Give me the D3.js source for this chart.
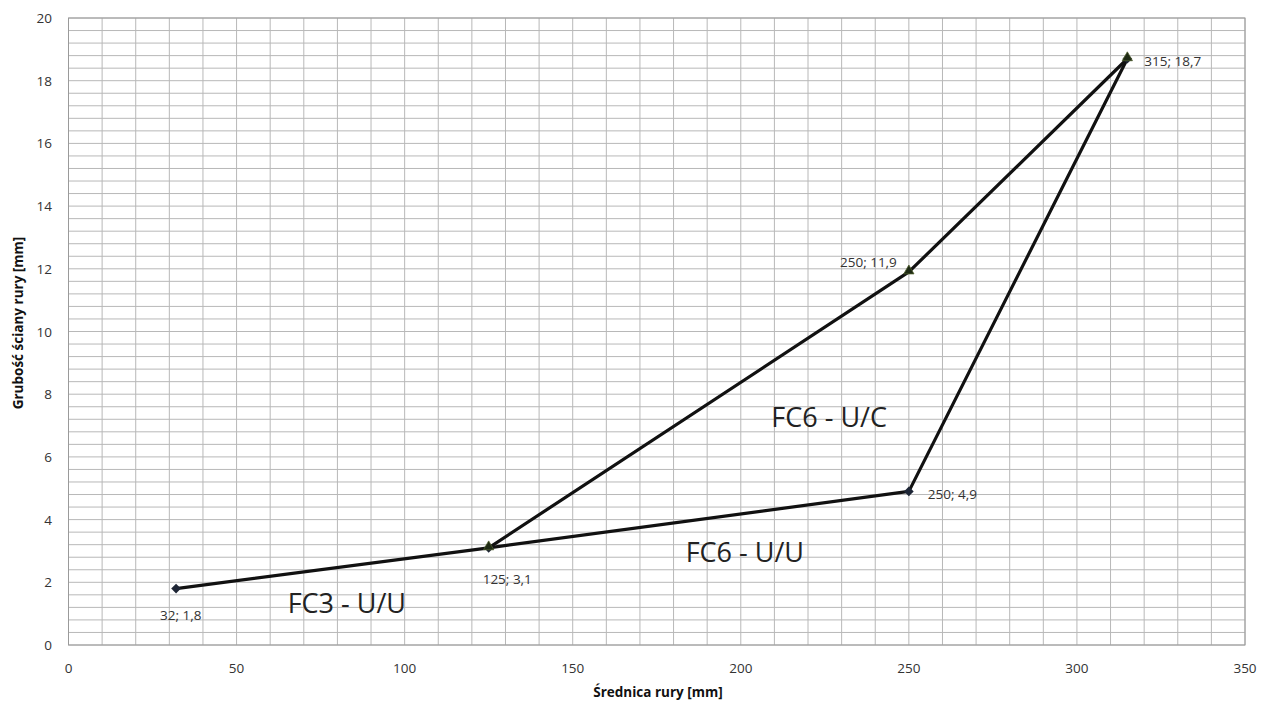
<!DOCTYPE html>
<html><head><meta charset="utf-8">
<script src="https://cdn.jsdelivr.net/npm/d3@7/dist/d3.min.js"></script>
<style>body{margin:0;background:#fff}svg{display:block}</style>
</head><body>
<svg id="c" width="1262" height="702"></svg>
<script>
// Series data
const seriesUU_x = [32, 125, 250, 315];
const seriesUU_y = [1.8, 3.1, 4.9, 18.7];
const seriesUC_x = [125, 250, 315];
const seriesUC_y = [3.1, 11.9, 18.7];
const pointLabels = ["32; 1,8", "125; 3,1", "250; 4,9", "315; 18,7", "250; 11,9"];
const regionLabels = ["FC6 - U/C", "FC6 - U/U", "FC3 - U/U"];
const regionPos_x = [226.3, 201.2, 82.8];
const regionPos_y = [6.95, 2.65, 1.02];
const xTicks = [0, 50, 100, 150, 200, 250, 300, 350];
const yTicks = [0, 2, 4, 6, 8, 10, 12, 14, 16, 18, 20];
const xTitle = "Średnica rury [mm]";
const yTitle = "Grubość ściany rury [mm]";

const svg = d3.select("#c");
const font = "'Open Sans', sans-serif";
const x = d3.scaleLinear().domain([0, 350]).range([68.5, 1245]);
const y = d3.scaleLinear().domain([0, 20]).range([645, 18]);

// grid
const g = svg.append("g");
g.selectAll(".vg").data(d3.range(0, 351, 10)).enter().append("line")
  .attr("x1", d => x(d)).attr("x2", d => x(d)).attr("y1", y(0)).attr("y2", y(20))
  .attr("stroke", "#b8b8b8").attr("stroke-width", 1);
g.selectAll(".hg").data(d3.range(0, 51).map(i => i * 0.4)).enter().append("line")
  .attr("x1", x(0)).attr("x2", x(350)).attr("y1", d => y(d)).attr("y2", d => y(d))
  .attr("stroke", "#b8b8b8").attr("stroke-width", 1);
g.append("rect").attr("x", x(0)).attr("y", y(20)).attr("width", x(350) - x(0)).attr("height", y(0) - y(20))
  .attr("fill", "none").attr("stroke", "#9a9a9a").attr("stroke-width", 1);

// axes tick labels
svg.selectAll(".xt").data(xTicks).enter().append("text")
  .attr("x", d => x(d)).attr("y", 673).attr("text-anchor", "middle")
  .attr("font-family", font).attr("font-size", 13.5).attr("fill", "#333").text(d => d);
svg.selectAll(".yt").data(yTicks).enter().append("text")
  .attr("x", 52).attr("y", d => y(d) + 5).attr("text-anchor", "end")
  .attr("font-family", font).attr("font-size", 13.5).attr("fill", "#333").text(d => d);

svg.append("text").attr("x", 658).attr("y", 697).attr("text-anchor", "middle")
  .attr("font-family", font).attr("font-weight", "bold").attr("font-size", 13.5).attr("fill", "#111").text(xTitle);
svg.append("text").attr("transform", "translate(23,323) rotate(-90)").attr("text-anchor", "middle")
  .attr("font-family", font).attr("font-weight", "bold").attr("font-size", 13.5).attr("fill", "#111").text(yTitle);

// lines
const line = d3.line().x(d => x(d[0])).y(d => y(d[1]));
const uu = seriesUU_x.map((v, i) => [v, seriesUU_y[i]]);
const uc = seriesUC_x.map((v, i) => [v, seriesUC_y[i]]);
svg.append("path").attr("d", line(uu)).attr("fill", "none").attr("stroke", "#111").attr("stroke-width", 3.2).attr("stroke-linejoin", "round");
svg.append("path").attr("d", line(uc)).attr("fill", "none").attr("stroke", "#111").attr("stroke-width", 3.2).attr("stroke-linejoin", "round");

// markers
svg.selectAll(".dm").data(uu).enter().append("path")
  .attr("d", d3.symbol().type(d3.symbolDiamond2).size(60))
  .attr("transform", d => `translate(${x(d[0])},${y(d[1])})`)
  .attr("fill", "#1d2535");
svg.selectAll(".tm").data(uc).enter().append("path")
  .attr("d", d3.symbol().type(d3.symbolTriangle2).size(75))
  .attr("transform", d => `translate(${x(d[0])},${y(d[1]) - 1})`)
  .attr("fill", "#1e2a14").attr("stroke", "#4b5a2a").attr("stroke-width", 0.8);

// point labels
const lblPts = [uu[0], uu[1], uu[2], uu[3], uc[1]];
const lblDx = [-16, -6, 19, 17, -12];
const lblDy = [31, 36, 8, 7, -5];
const lblAnchor = ["start", "start", "start", "start", "end"];
svg.selectAll(".pl").data(pointLabels).enter().append("text")
  .attr("x", (d, i) => x(lblPts[i][0]) + lblDx[i])
  .attr("y", (d, i) => y(lblPts[i][1]) + lblDy[i])
  .attr("text-anchor", (d, i) => lblAnchor[i])
  .attr("font-family", font).attr("font-size", 13.5).attr("fill", "#333").text(d => d);

// region labels
svg.selectAll(".rl").data(regionLabels).enter().append("text")
  .attr("x", (d, i) => x(regionPos_x[i])).attr("y", (d, i) => y(regionPos_y[i]))
  .attr("text-anchor", "middle")
  .attr("font-family", font).attr("font-size", 27).attr("fill", "#222").text(d => d);
</script>
</body></html>
